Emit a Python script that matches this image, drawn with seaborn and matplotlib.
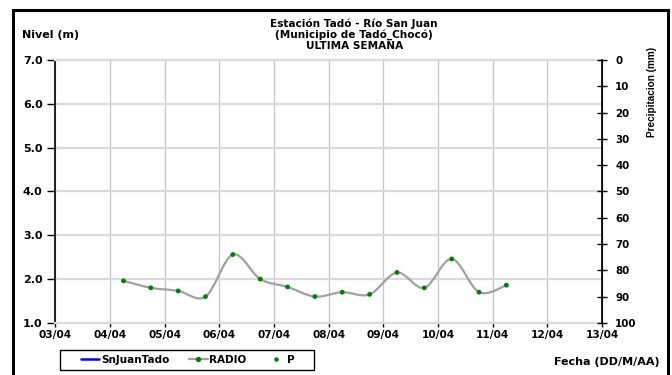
import numpy as np
import pandas as pd
import matplotlib
matplotlib.use("Agg")
import matplotlib.pyplot as plt
import matplotlib.dates as mdates
from matplotlib.path import Path
from matplotlib.patches import PathPatch, Rectangle
from matplotlib.lines import Line2D
import seaborn as sns

# data (12 h readings of station RADIO)
times = ["2013-04-04 06:00", "2013-04-04 18:00", "2013-04-05 06:00", "2013-04-05 18:00",
         "2013-04-06 06:00", "2013-04-06 18:00", "2013-04-07 06:00", "2013-04-07 18:00",
         "2013-04-08 06:00", "2013-04-08 18:00", "2013-04-09 06:00", "2013-04-09 18:00",
         "2013-04-10 06:00", "2013-04-10 18:00", "2013-04-11 06:00"]
radio = [1.96, 1.80, 1.73, 1.60, 2.56, 2.00, 1.82, 1.60, 1.70, 1.65, 2.15, 1.80, 2.46, 1.70, 1.86]
day_ticks = pd.date_range("2013-04-03", "2013-04-13", freq="D")
level_ticks = [1.0, 2.0, 3.0, 4.0, 5.0, 6.0, 7.0]
rain_ticks = list(range(0, 101, 10))

df = pd.DataFrame({"Fecha": pd.to_datetime(times), "Nivel": radio})

sns.set_style("white")
plt.rcParams["font.family"] = ["DejaVu Sans"]
plt.rcParams["font.weight"] = "bold"
plt.rcParams["text.color"] = "black"
plt.rcParams["xtick.color"] = "black"
plt.rcParams["ytick.color"] = "black"

fig = plt.figure(figsize=(6.72, 3.75), dpi=100)
ax = fig.add_axes([0.082, 0.139, 0.814, 0.701])

# smoothed line like the spreadsheet one (Catmull-Rom as bezier segments)
xs = mdates.date2num(df["Fecha"])
ys = df["Nivel"].to_numpy()
pts = np.column_stack([xs, ys])
verts = [pts[0]]
codes = [Path.MOVETO]
for i in range(len(pts) - 1):
    p0 = pts[max(i - 1, 0)]
    p1 = pts[i]
    p2 = pts[i + 1]
    p3 = pts[min(i + 2, len(pts) - 1)]
    verts += [p1 + (p2 - p0) / 6, p2 - (p3 - p1) / 6, p2]
    codes += [Path.CURVE4] * 3
ax.add_patch(PathPatch(Path(verts, codes), facecolor="none", edgecolor="#a0a0a0",
                       lw=1.6, zorder=3))
sns.scatterplot(data=df, x="Fecha", y="Nivel", ax=ax, color="#008000", s=12,
                edgecolor="none", zorder=4, legend=False)

ax.set_xlim(day_ticks[0], day_ticks[-1])
ax.set_ylim(1.0, 7.0)
ax.set_xticks(day_ticks)
ax.xaxis.set_major_formatter(mdates.DateFormatter("%d/%m"))
ax.set_yticks(level_ticks)
ax.yaxis.set_major_formatter(matplotlib.ticker.FormatStrFormatter("%.1f"))
ax.set_xlabel("")
ax.set_ylabel("")
ax.grid(axis="x", color="#c4c4c4", lw=0.9)
ax.grid(axis="y", color="#dadada", lw=1.6)
ax.set_axisbelow(True)
for s in ["top", "bottom"]:
    ax.spines[s].set_color("#dadada")
    ax.spines[s].set_linewidth(1.6)
ax.spines["left"].set_color("black")
ax.spines["left"].set_linewidth(1.2)
ax.tick_params(axis="y", direction="out", length=6, width=1, color="black",
               labelsize=8, pad=3, left=True)
ax.tick_params(axis="x", direction="out", length=3, width=1, color="black",
               labelsize=7.6, pad=2, bottom=True)

ax2 = ax.twinx()
ax2.set_ylim(100, 0)
ax2.set_yticks(rain_ticks)
ax2.spines["right"].set_color("black")
ax2.spines["right"].set_linewidth(1.2)
for s in ["top", "bottom", "left"]:
    ax2.spines[s].set_visible(False)
ax2.tick_params(axis="y", direction="inout", length=7, width=1, color="black",
                labelsize=7.4, pad=6, right=True)
ax2.grid(False)

for lbl in ax.get_xticklabels() + ax.get_yticklabels() + ax2.get_yticklabels():
    lbl.set_fontweight("bold")

# titles and labels
fig.text(0.527, 0.937, "Estación Tadó - Río San Juan", ha="center", va="center",
         fontsize=7.6, fontweight="bold")
fig.text(0.527, 0.907, "(Municipio de Tadó_Chocó)", ha="center", va="center",
         fontsize=7.6, fontweight="bold")
fig.text(0.527, 0.878, "ULTIMA SEMANA", ha="center", va="center",
         fontsize=7.6, fontweight="bold")
fig.text(0.033, 0.907, "Nivel (m)", ha="left", va="center", fontsize=8,
         fontweight="bold")
fig.text(0.970, 0.755, "Precipitacion (mm)", ha="center", va="center", rotation=90,
         fontsize=7.2, fontweight="bold", family=["Liberation Sans", "DejaVu Sans"])
fig.text(0.982, 0.035, "Fecha (DD/M/AA)", ha="right", va="center", fontsize=8,
         fontweight="bold")

# legend in its own box below the plot
handles = [
    Line2D([], [], color="#0000ff", lw=1.8),
    Line2D([], [], color="#a0a0a0", lw=1.6, marker="o", markersize=2.8,
           markerfacecolor="#008000", markeredgecolor="#008000"),
    Line2D([], [], color="none", marker="o", markersize=2.2,
           markerfacecolor="#008000", markeredgecolor="#008000"),
]
leg = fig.legend(handles, ["SnJuanTado", "RADIO", "P"], loc="center left",
                 bbox_to_anchor=(0.120, 0.04), ncol=3, fontsize=7.5, frameon=False,
                 handlelength=1.8, handletextpad=0.15, columnspacing=1.9,
                 borderpad=0, borderaxespad=0)
for t in leg.get_texts():
    t.set_fontweight("bold")
fig.patches.append(Rectangle((0.089, 0.014), 0.379, 0.053, transform=fig.transFigure,
                             facecolor="white", edgecolor="black", lw=1.0, zorder=-1))

fig.patches.append(Rectangle((0.019, -0.02), 0.975, 0.994, transform=fig.transFigure,
                             fill=False, edgecolor="black", lw=2.2))

fig.savefig("out.png", dpi=100)
